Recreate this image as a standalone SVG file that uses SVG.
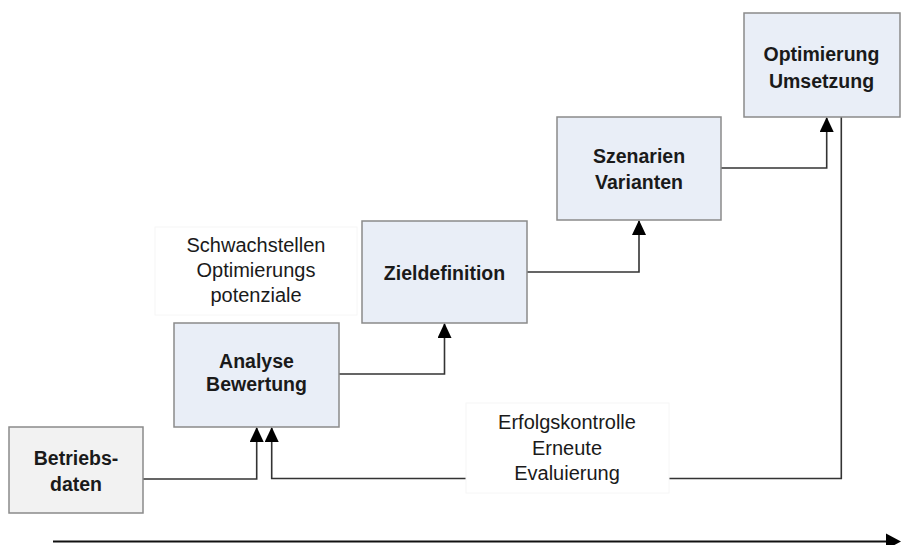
<svg xmlns="http://www.w3.org/2000/svg" width="901" height="545" viewBox="0 0 901 545">
  <defs>
    <style>
      .box { fill: #e9eef7; stroke: #8a8a8a; stroke-width: 1.5; }
      .gray { fill: #f2f2f2; stroke: #8a8a8a; stroke-width: 1.5; }
      .lbl { fill: #ffffff; stroke: #f6f6f6; stroke-width: 1; }
      .b { font-family: "Liberation Sans", Arial, sans-serif; font-weight: bold; font-size: 19.5px; fill: #1a1a1a; text-anchor: middle; }
      .t { font-family: "Liberation Sans", Arial, sans-serif; font-size: 20px; fill: #1a1a1a; text-anchor: middle; }
      .c { fill: none; stroke: #333333; stroke-width: 1.6; }
    </style>
    <marker id="ah" markerUnits="userSpaceOnUse" markerWidth="15" markerHeight="14" viewBox="0 0 15 14" refX="14" refY="7" orient="auto">
      <path d="M0,0 L15,7 L0,14 z" fill="#000000"/>
    </marker>
  </defs>
  <rect width="901" height="545" fill="#ffffff"/>

  <g id="connectors">
    <path class="c" d="M143,479 H256.7 V428" marker-end="url(#ah)"/>
    <path class="c" d="M841.3,117 V478.5 H271.7 V428" marker-end="url(#ah)"/>
    <path class="c" d="M339,374 H444.5 V324" marker-end="url(#ah)"/>
    <path class="c" d="M527,272 H639 V221" marker-end="url(#ah)"/>
    <path class="c" d="M721,168 H826.7 V118" marker-end="url(#ah)"/>
    <line x1="53" y1="541.5" x2="888" y2="541.5" stroke="#111111" stroke-width="2.2"/>
    <polygon points="886,533.5 901,541.5 886,549.5" fill="#000000"/>
  </g>

  <g id="betriebsdaten">
    <rect class="gray" x="9" y="427" width="134" height="86"/>
    <text class="b" x="76" y="465">Betriebs-</text>
    <text class="b" x="76" y="491">daten</text>
  </g>

  <g id="schwachstellen">
    <rect class="lbl" x="155" y="227" width="202" height="88"/>
    <text class="t" x="256" y="252">Schwachstellen</text>
    <text class="t" x="256" y="277">Optimierungs</text>
    <text class="t" x="256" y="302">potenziale</text>
  </g>

  <g id="analyse">
    <rect class="box" x="174" y="323" width="165" height="104"/>
    <text class="b" x="256.5" y="368">Analyse</text>
    <text class="b" x="256.5" y="391">Bewertung</text>
  </g>

  <g id="zieldefinition">
    <rect class="box" x="362" y="221" width="165" height="102"/>
    <text class="b" x="444.5" y="280">Zieldefinition</text>
  </g>

  <g id="szenarien">
    <rect class="box" x="557" y="117" width="164" height="103"/>
    <text class="b" x="639" y="163">Szenarien</text>
    <text class="b" x="639" y="189">Varianten</text>
  </g>

  <g id="optimierung">
    <rect class="box" x="744" y="13" width="156" height="104"/>
    <text class="b" x="821.5" y="61">Optimierung</text>
    <text class="b" x="821.5" y="88">Umsetzung</text>
  </g>

  <g id="erfolgskontrolle">
    <rect class="lbl" x="466" y="403" width="203" height="90"/>
    <text class="t" x="567" y="429">Erfolgskontrolle</text>
    <text class="t" x="567" y="455">Erneute</text>
    <text class="t" x="567" y="480">Evaluierung</text>
  </g>
</svg>
